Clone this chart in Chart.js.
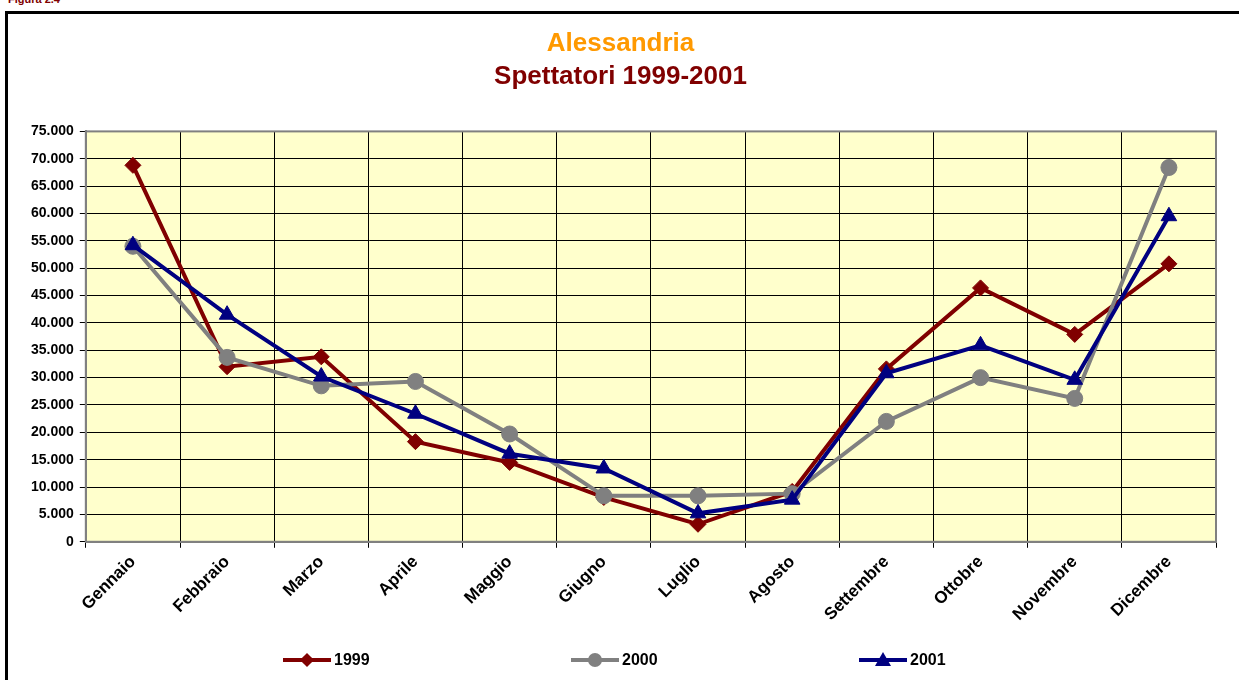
<!DOCTYPE html>
<html>
<head>
<meta charset="utf-8">
<script src="https://cdn.jsdelivr.net/npm/chart.js@4.4.0/dist/chart.umd.min.js"></script>
<style>
    html, body { margin: 0; padding: 0; background: #fff; overflow: hidden; width: 1239px; height: 680px; font-family: Arial, "Liberation Sans", sans-serif; }
    #fig { position: absolute; left: 8px; top: -7px; font-size: 11px; font-weight: bold; color: #800000; }
    #frame { position: absolute; left: 5px; top: 11px; width: 1300px; height: 700px; border-left: 3px solid #000; border-top: 3px solid #000; }
    #box { position: absolute; left: 8px; top: 14px; width: 1234px; height: 666px; }
    #legend { position: absolute; top: 649px; left: 283px; display: flex; }
    .item { display: flex; align-items: center; font-size: 16px; font-weight: bold; color: #000; width: 288px; }
    .sym { position: relative; width: 48px; height: 22px; margin-right: 3px; }
    .sym .ln { position: absolute; left: 0; top: 9px; width: 48px; height: 4px; }
    .sym .mk { position: absolute; }
</style>
</head>
<body>
<div id="fig">Figura 2.4</div>
<div id="frame"></div>
<div id="box"><canvas id="chart"></canvas></div>
<div id="legend"></div>

<script>
// ====== Data ======
const months = ['Gennaio', 'Febbraio', 'Marzo', 'Aprile', 'Maggio', 'Giugno',
                'Luglio', 'Agosto', 'Settembre', 'Ottobre', 'Novembre', 'Dicembre'];
const years = ['1999', '2000', '2001'];
const spett1999 = [68800, 32000, 33800, 18300, 14500, 8100, 3200, 9200, 31600, 46400, 37900, 50800];
const spett2000 = [54000, 33700, 28500, 29300, 19700, 8400, 8400, 8800, 22000, 30000, 26200, 68400];
const spett2001 = [54200, 41500, 30200, 23400, 16100, 13400, 5200, 7700, 30800, 35900, 29600, 59500];
const yTicks = [0, 5000, 10000, 15000, 20000, 25000, 30000, 35000, 40000, 45000, 50000, 55000, 60000, 65000, 70000, 75000];

const colors = ['#800000', '#808080', '#000080'];
const markers = ['rectRot', 'circle', 'triangle'];
const radii = [8, 8, 9];
const series = [spett1999, spett2000, spett2001];

const fmt = v => String(v).replace(/\B(?=(\d{3})+(?!\d))/g, '.');
const family = 'Arial, "Liberation Sans", sans-serif';

// plot background + grey frame
const plotFrame = {
    id: 'plotFrame',
    beforeDraw(chart) {
        const { ctx, chartArea: a } = chart;
        ctx.save();
        ctx.fillStyle = '#FFFFCC';
        ctx.fillRect(a.left, a.top, a.right - a.left, a.bottom - a.top);
        ctx.restore();
    },
    beforeDatasetsDraw(chart) {
        const { ctx, chartArea: a } = chart;
        ctx.save();
        ctx.strokeStyle = '#808080';
        ctx.lineWidth = 2;
        ctx.strokeRect(a.left, a.top, a.right - a.left, a.bottom - a.top);
        ctx.restore();
    }
};

const datasets = years.map((y, i) => ({
    label: y,
    data: series[i],
    borderColor: colors[i],
    backgroundColor: colors[i],
    borderWidth: 4,
    pointStyle: markers[i],
    pointRadius: radii[i],
    pointBorderWidth: 1,
    tension: 0,
    order: 3 - i
}));

new Chart(document.getElementById('chart'), {
    type: 'line',
    data: { labels: months, datasets },
    options: {
        responsive: true,
        maintainAspectRatio: false,
        animation: false,
        layout: { padding: { left: 17, right: 26, top: 0, bottom: 51 } },
        plugins: {
            legend: { display: false },
            tooltip: { enabled: false },
            title: {
                display: true, text: 'Alessandria', color: '#FF9900',
                font: { family, size: 26, weight: 'bold' },
                padding: { top: 14, bottom: 2 }
            },
            subtitle: {
                display: true, text: 'Spettatori 1999-2001', color: '#800000',
                font: { family, size: 26, weight: 'bold' },
                padding: { top: 0, bottom: 39 }
            }
        },
        scales: {
            x: {
                offset: true,
                grid: { offset: true, color: '#000', lineWidth: 1, tickLength: 6 },
                border: { color: '#808080', width: 2 },
                ticks: { color: '#000', font: { family, size: 17, weight: 'bold' }, maxRotation: 45, minRotation: 45, padding: 4 }
            },
            y: {
                min: 0, max: 75000,
                afterBuildTicks: s => { s.ticks = yTicks.map(v => ({ value: v })); },
                grid: { color: '#000', lineWidth: 1, tickLength: 6 },
                border: { color: '#808080', width: 2 },
                ticks: { color: '#000', font: { family, size: 14, weight: 'bold' }, padding: 6, callback: v => fmt(v) }
            }
        }
    },
    plugins: [plotFrame]
});

// ====== HTML legend ======
const legend = document.getElementById('legend');
years.forEach((y, i) => {
    const item = document.createElement('div');
    item.className = 'item';
    const sym = document.createElement('div');
    sym.className = 'sym';
    const ln = document.createElement('div');
    ln.className = 'ln';
    ln.style.background = colors[i];
    const mk = document.createElement('div');
    mk.className = 'mk';
    if (markers[i] === 'rectRot') {
        Object.assign(mk.style, { left: '19px', top: '6px', width: '10px', height: '10px', background: colors[i], transform: 'rotate(45deg)' });
    } else if (markers[i] === 'circle') {
        Object.assign(mk.style, { left: '17px', top: '4px', width: '14px', height: '14px', background: colors[i], borderRadius: '50%' });
    } else {
        Object.assign(mk.style, { left: '16px', top: '3px', width: 0, height: 0, borderLeft: '8px solid transparent', borderRight: '8px solid transparent', borderBottom: '14px solid ' + colors[i] });
    }
    sym.appendChild(ln);
    sym.appendChild(mk);
    const txt = document.createElement('span');
    txt.textContent = y;
    item.appendChild(sym);
    item.appendChild(txt);
    legend.appendChild(item);
});
</script>
</body>
</html>
